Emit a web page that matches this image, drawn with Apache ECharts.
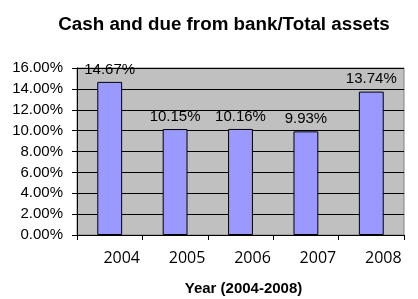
<!DOCTYPE html>
<html><head><meta charset="utf-8">
<script src="https://cdn.jsdelivr.net/npm/echarts@6/dist/echarts.min.js"></script>
<style>html,body{margin:0;padding:0;background:#fff}#c{width:418px;height:299px}</style>
</head><body><div id="c"></div>
<script>
const categories = ['2004', '2005', '2006', '2007', '2008'];
const values = [14.67, 10.15, 10.16, 9.93, 13.74];
const yTicks = [0, 2, 4, 6, 8, 10, 12, 14, 16];
const chart = echarts.init(document.getElementById('c'), null, {renderer: 'canvas'});
chart.setOption({
  animation: false,
  backgroundColor: '#fff',
  title: {
    text: 'Cash and due from bank/Total assets',
    left: 219, top: 10, textAlign: 'center',
    textStyle: {fontFamily: 'Liberation Sans, Arial', fontWeight: 'bold', fontSize: 18.8, color: '#000'}
  },
  grid: {left: 77, right: 14, top: 68, bottom: 64, outerBoundsMode: 'none', containLabel: false,
    show: true, backgroundColor: '#C0C0C0', borderColor: '#808080', borderWidth: 1},
  xAxis: {
    type: 'category', data: categories,
    name: 'Year (2004-2008)', nameLocation: 'middle', nameGap: 46,
    nameTextStyle: {fontFamily: 'Liberation Sans, Arial', fontWeight: 'bold', fontSize: 15, color: '#000', padding: [0,0,0,6]},
    axisLine: {lineStyle: {color: '#000', width: 1}},
    axisTick: {show: true, length: 5, lineStyle: {color: '#000'}},
    axisLabel: {fontFamily: 'Open Sans', fontSize: 16, color: '#000', margin: 15, padding: [0,0,0,24]}
  },
  yAxis: {
    type: 'value', min: yTicks[0], max: yTicks[yTicks.length-1], interval: 2,
    axisLine: {show: true, lineStyle: {color: '#000', width: 1}},
    axisTick: {show: true, length: 5, lineStyle: {color: '#000'}},
    splitLine: {lineStyle: {color: '#000', width: 1}},
    axisLabel: {fontFamily: 'Liberation Sans, Arial', fontSize: 15, color: '#000', margin: 14,
      formatter: v => v.toFixed(2) + '%'}
  },
  series: [{
    type: 'bar', data: values, barWidth: '38%',
    itemStyle: {color: '#9999FF', borderColor: '#000', borderWidth: 1},
    label: {show: true, position: 'top', distance: 5, fontFamily: 'Liberation Sans, Arial', fontSize: 15, color: '#000',
      formatter: p => p.value.toFixed(2) + '%'}
  }]
});
</script></body></html>
